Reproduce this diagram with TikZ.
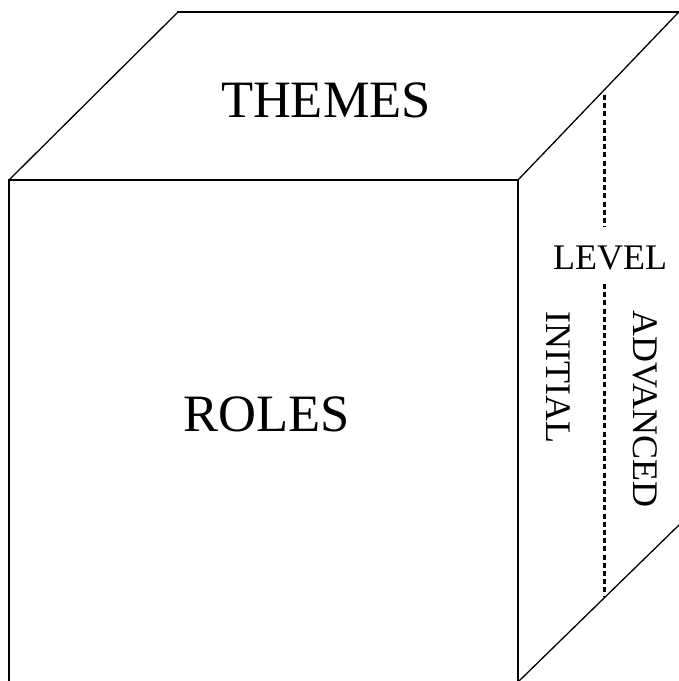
\documentclass[tikz,border=0pt]{standalone}
\usepackage{fontspec}
\setmainfont{Liberation Serif}
\begin{document}
\begin{tikzpicture}[x=1pt,y=-1pt,
  edge/.style={line width=1.8pt,line cap=rect},
  diag/.style={line width=1.3pt},
  levelline/.style={line width=3pt,dash pattern=on 5pt off 3.2pt},
  bigtxt/.style={font=\fontsize{52.5}{60}\selectfont,inner sep=0pt},
  smalltxt/.style={font=\fontsize{36}{42}\selectfont,inner sep=0pt}]
\useasboundingbox (0,0) rectangle (679,681);
\begin{scope}
\clip (0,0) rectangle (679,681);
% front face
\draw[edge] (9,700) -- (9,180) -- (518,180) -- (518,700);
% top face
\draw[diag] (9,180) -- (178,12);
\draw[edge] (178,12) -- (700,12);
\draw[diag] (518,180) -- (697,-7);
% right face bottom edge
\draw[diag] (519,681) -- (699,505.5);
% level divider
\coordinate (d1) at (604,95);
\coordinate (d2) at (604,227);
\coordinate (d3) at (604,284);
\coordinate (d4) at (604,597);
\draw[levelline] (d1) -- (d2);
\draw[levelline] (d3) -- (d4);
\end{scope}
\node[bigtxt] (themes) at (326,100.5) {THEMES};
\node[bigtxt] (roles) at (267,414.7) {ROLES};
\node[smalltxt] (level) at (610,258) {LEVEL};
\node[smalltxt,rotate=-90] (initial) at (558.5,377.5) {INITIAL};
\node[smalltxt,rotate=-90] (advanced) at (645.5,409) {ADVANCED};
\end{tikzpicture}
\end{document}
